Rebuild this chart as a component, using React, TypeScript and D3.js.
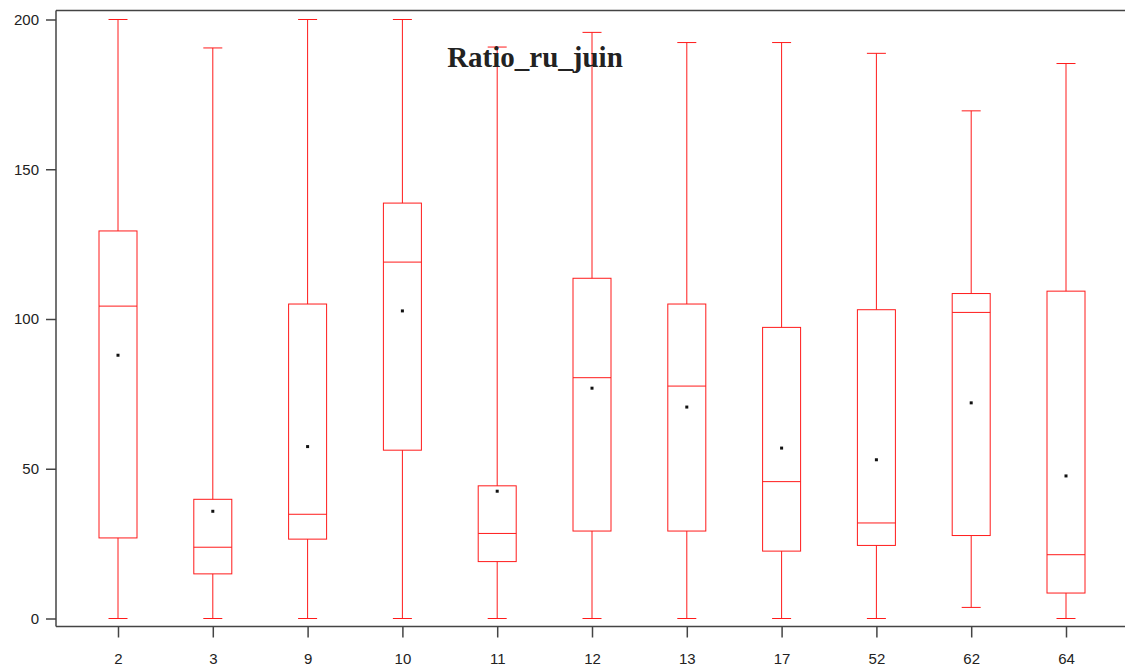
import { useEffect, useRef } from "react";
import * as d3 from "d3";

const categories = ["2", "3", "9", "10", "11", "12", "13", "17", "52", "62", "64"];
const minValues = [0, 0, 0, 0, 0, 0, 0, 0, 0, 3.7, 0];
const q1Values = [26.9, 14.9, 26.5, 56.2, 19.0, 29.2, 29.2, 22.5, 24.4, 27.7, 8.5];
const medianValues = [104.3, 23.8, 34.8, 119.0, 28.4, 80.4, 77.6, 45.7, 31.9, 102.2, 21.3];
const q3Values = [129.4, 39.8, 105.0, 138.7, 44.3, 113.6, 105.0, 97.2, 103.1, 108.5, 109.3];
const maxValues = [200, 190.5, 200, 200, 190.8, 195.7, 192.3, 192.3, 188.7, 169.5, 185.3];
const meanValues = [87.9, 35.8, 57.4, 102.7, 42.5, 76.9, 70.6, 56.9, 53.0, 72.0, 47.6];
const yTicks = [0, 50, 100, 150, 200];

export default function App() {
  const ref = useRef<HTMLDivElement>(null);

  useEffect(() => {
    const width = 1125;
    const height = 666;
    const left = 56;
    const top = 10.5;
    const axisY = 626.5;
    const boxW = 38;
    const capW = 19;
    const red = "#ff1a1a";
    const axisColor = "#444";

    const svg = d3
      .select(ref.current)
      .append("svg")
      .attr("width", width)
      .attr("height", height)
      .style("position", "absolute")
      .style("left", "0px")
      .style("top", "0px")
      .style("background", "#fff");

    const data = categories.map((c, i) => ({
      name: c,
      min: minValues[i],
      q1: q1Values[i],
      median: medianValues[i],
      q3: q3Values[i],
      max: maxValues[i],
      mean: meanValues[i],
    }));

    const x = d3.scalePoint().domain(categories).range([118, 1066]);
    const y = d3.scaleLinear().domain([0, 200]).range([618.5, 19.5]);

    // frame: top line, left axis, bottom axis
    svg
      .append("line")
      .attr("x1", left)
      .attr("x2", width)
      .attr("y1", top)
      .attr("y2", top)
      .attr("stroke", axisColor)
      .attr("stroke-width", 1.5);

    const yAxis = svg
      .append("g")
      .attr("transform", `translate(${left},0)`)
      .call(d3.axisLeft(y).tickValues(yTicks).tickSize(10).tickPadding(7).tickSizeOuter(0));
    yAxis.select(".domain").attr("d", `M0,${top}V${axisY}`).attr("stroke", axisColor).attr("stroke-width", 1.5);
    yAxis.selectAll(".tick line").attr("stroke", axisColor).attr("stroke-width", 1.5);
    yAxis
      .selectAll(".tick text")
      .attr("fill", "#222")
      .style("font-family", "Liberation Sans, Arial, sans-serif")
      .style("font-size", "15px");

    const xAxis = svg
      .append("g")
      .attr("transform", `translate(0,${axisY})`)
      .call(d3.axisBottom(x).tickSize(11).tickPadding(16).tickSizeOuter(0));
    xAxis.select(".domain").attr("d", `M${left},0H${width}`).attr("stroke", axisColor).attr("stroke-width", 1.5);
    xAxis.selectAll(".tick line").attr("stroke", axisColor).attr("stroke-width", 1.5);
    xAxis
      .selectAll(".tick text")
      .attr("fill", "#222")
      .style("font-family", "Liberation Sans, Arial, sans-serif")
      .style("font-size", "15px");

    const g = svg.append("g").selectAll("g").data(data).enter().append("g");

    // whiskers
    g.append("line")
      .attr("x1", (d) => x(d.name)!)
      .attr("x2", (d) => x(d.name)!)
      .attr("y1", (d) => y(d.max))
      .attr("y2", (d) => y(d.q3))
      .attr("stroke", red);
    g.append("line")
      .attr("x1", (d) => x(d.name)!)
      .attr("x2", (d) => x(d.name)!)
      .attr("y1", (d) => y(d.q1))
      .attr("y2", (d) => y(d.min))
      .attr("stroke", red);
    g.append("line")
      .attr("x1", (d) => x(d.name)! - capW / 2)
      .attr("x2", (d) => x(d.name)! + capW / 2)
      .attr("y1", (d) => y(d.max))
      .attr("y2", (d) => y(d.max))
      .attr("stroke", red);
    g.append("line")
      .attr("x1", (d) => x(d.name)! - capW / 2)
      .attr("x2", (d) => x(d.name)! + capW / 2)
      .attr("y1", (d) => y(d.min))
      .attr("y2", (d) => y(d.min))
      .attr("stroke", red);

    // boxes
    g.append("rect")
      .attr("x", (d) => x(d.name)! - boxW / 2)
      .attr("y", (d) => y(d.q3))
      .attr("width", boxW)
      .attr("height", (d) => y(d.q1) - y(d.q3))
      .attr("fill", "none")
      .attr("stroke", red);
    g.append("line")
      .attr("x1", (d) => x(d.name)! - boxW / 2)
      .attr("x2", (d) => x(d.name)! + boxW / 2)
      .attr("y1", (d) => y(d.median))
      .attr("y2", (d) => y(d.median))
      .attr("stroke", red);

    // means
    g.append("rect")
      .attr("x", (d) => x(d.name)! - 1.5)
      .attr("y", (d) => y(d.mean) - 1.5)
      .attr("width", 3)
      .attr("height", 3)
      .attr("fill", "#111");

    svg
      .append("text")
      .attr("x", 535)
      .attr("y", 67)
      .attr("text-anchor", "middle")
      .attr("fill", "#222")
      .style("font-family", "Liberation Serif, Times New Roman, serif")
      .style("font-weight", "bold")
      .style("font-size", "29px")
      .text("Ratio_ru_juin");

    return () => {
      d3.select(ref.current).selectAll("*").remove();
    };
  }, []);

  return <div ref={ref} />;
}
